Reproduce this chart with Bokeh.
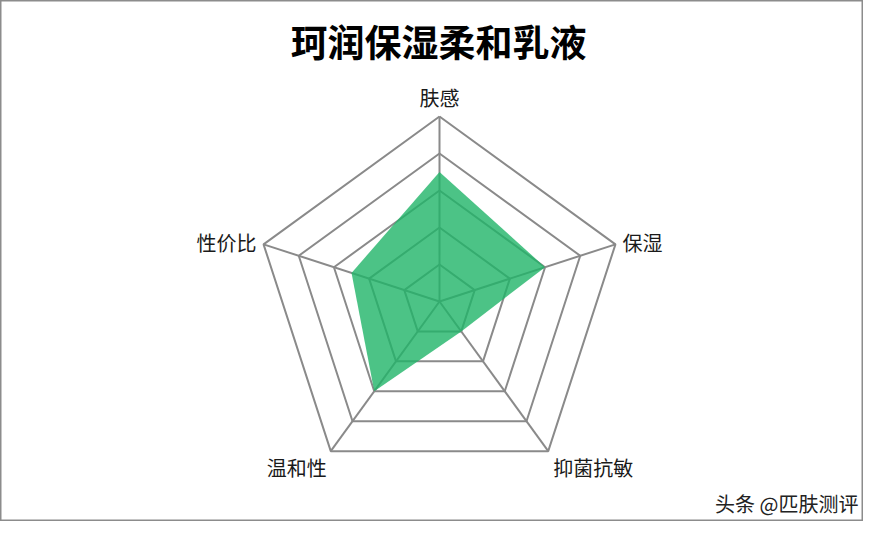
import numpy as np
from bokeh.plotting import figure
from bokeh.models import Range1d, Label, ColumnDataSource
from bokeh.core.properties import value
from bokeh.embed import file_html
from bokeh.resources import INLINE

# ---- data ----
title_text = "珂润保湿柔和乳液"
categories = ["肤感", "保湿", "抑菌抗敏", "温和性", "性价比"]
scores = [3.5, 3.0, 1.0, 3.0, 2.5]
levels = [1, 2, 3, 4, 5]
watermark = "头条 @匹肤测评"

# ---- layout ----
W, H = 863, 521
unit = 37.0          # pixels per score unit
cx, cy = 439, 301    # radar centre in canvas pixels (from top-left)

p = figure(width=W, height=H, output_backend="svg", toolbar_location=None,
           x_range=Range1d(-cx / unit, (W - cx) / unit),
           y_range=Range1d(-(H - cy) / unit, cy / unit),
           x_axis_location=None, y_axis_location=None,
           min_border=0, tools="")
p.grid.visible = False
p.background_fill_color = "white"
p.border_fill_color = "white"
p.outline_line_color = "#8c8c8c"
p.outline_line_width = 2

n = len(categories)
angles = np.deg2rad(90 - 72 * np.arange(n))
ux, uy = np.cos(angles), np.sin(angles)

grid_color = "#8a8a8a"
# rings
for lv in levels:
    xs = list(ux * lv) + [ux[0] * lv]
    ys = list(uy * lv) + [uy[0] * lv]
    p.line(xs, ys, line_color=grid_color, line_width=2)
# spokes
top = max(levels)
p.segment(x0=[0] * n, y0=[0] * n, x1=list(ux * top), y1=list(uy * top),
          line_color=grid_color, line_width=2)

# data polygon
sv = np.array(scores)
p.patch(list(ux * sv), list(uy * sv), fill_color="#1fb468", fill_alpha=0.8,
        line_color=None)

# category labels
lx = list(ux * top)
ly = list(uy * top)
aligns = ["center", "left", "left", "right", "right"]
xoffs = [0, 7, 5, -4, -7]
yoffs = [-19, -2, 16, 16, -2]
src = ColumnDataSource(dict(x=lx, y=ly, t=categories, a=aligns, xo=xoffs, yo=yoffs))
p.text(x="x", y="y", text="t", source=src, text_align="a",
       x_offset="xo", y_offset="yo", text_baseline="middle",
       text_font=value("Noto Sans CJK SC"), text_font_size=value("20px"),
       text_color="#1a1a1a")

# title
p.add_layout(Label(x=438, y=H - 40, x_units="screen", y_units="screen",
                   text=title_text, text_align="center", text_baseline="middle",
                   text_font="Noto Sans CJK SC", text_font_style="bold",
                   text_font_size="37px", text_color="#000000"))

# watermark
p.add_layout(Label(x=W - 5, y=H - 503, x_units="screen", y_units="screen",
                   text=watermark, text_align="right", text_baseline="middle",
                   text_font="Noto Sans CJK SC", text_font_size="20px",
                   text_color="#222222"))

open("out.html", "w").write(file_html(p, INLINE))
